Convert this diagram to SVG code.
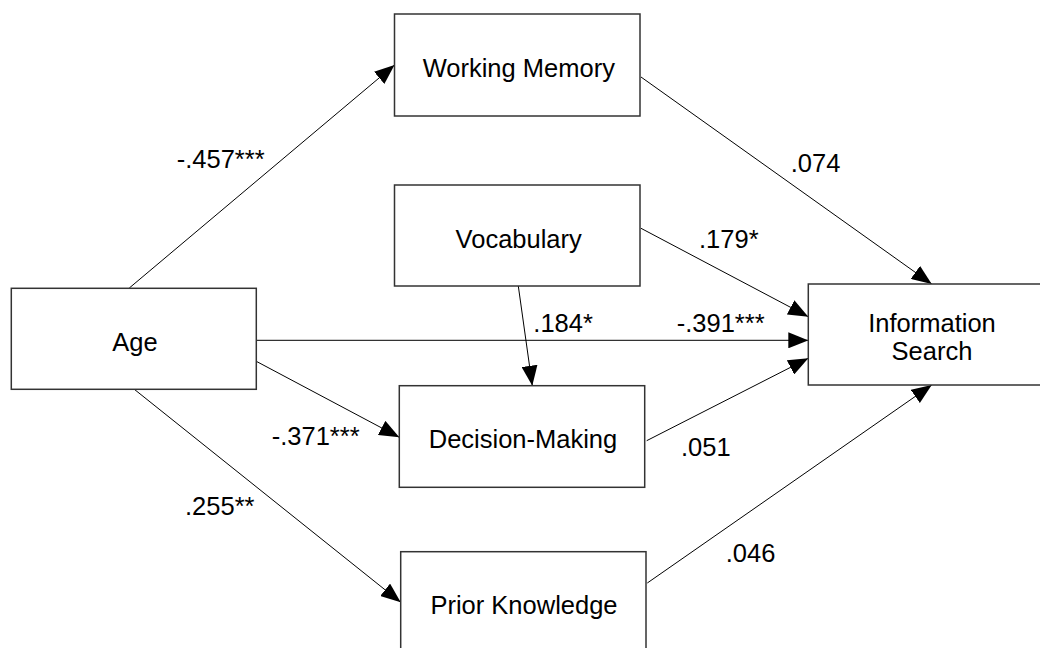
<svg xmlns="http://www.w3.org/2000/svg" width="1040" height="648" viewBox="0 0 1040 648">
<style>
.box{fill:#fff;stroke:#333;stroke-width:1.5}
.node{font-family:"Liberation Sans",Arial,sans-serif;font-size:25.5px;fill:#000;text-anchor:middle}
.lbl{font-family:"Liberation Sans",Arial,sans-serif;font-size:25.5px;fill:#000}
.edge{stroke:#000;stroke-width:1;fill:none;marker-end:url(#ah)}
</style>
<defs>
<marker id="ah" markerUnits="userSpaceOnUse" markerWidth="20" markerHeight="16" refX="20" refY="8" orient="auto">
<path d="M0,0 L20,8 L0,16 z" fill="#000"/>
</marker>
</defs>
<rect width="1040" height="648" fill="#fff"/>
<g id="connectors">
<line class="edge" x1="129.3" y1="288" x2="394.5" y2="65"/>
<line class="edge" x1="641" y1="77" x2="931.7" y2="284"/>
<line class="edge" x1="641" y1="228.3" x2="808.3" y2="316.7"/>
<line class="edge" x1="257" y1="340.3" x2="808.3" y2="340.3"/>
<line class="edge" x1="518.3" y1="286" x2="532.3" y2="385.7"/>
<line class="edge" x1="646.7" y1="440.7" x2="808.3" y2="358.3"/>
<line class="edge" x1="257" y1="361.7" x2="399.3" y2="437.3"/>
<line class="edge" x1="134.3" y1="389.3" x2="400.7" y2="602.3"/>
<line class="edge" x1="647.3" y1="583" x2="931.7" y2="385"/>
</g>
<g id="labels">
<text class="lbl" x="176.7" y="168">-.457***</text>
<text class="lbl" x="790.7" y="171.7">.074</text>
<text class="lbl" x="699" y="247.7">.179*</text>
<text class="lbl" x="533.3" y="332.3">.184*</text>
<text class="lbl" x="676.7" y="332.3">-.391***</text>
<text class="lbl" x="271.7" y="444.7">-.371***</text>
<text class="lbl" x="185" y="515">.255**</text>
<text class="lbl" x="681" y="455.7">.051</text>
<text class="lbl" x="725.7" y="562.3">.046</text>
</g>
<g id="working-memory">
<rect class="box" x="394.5" y="14" width="245.5" height="102"/>
<text class="node" x="518.8" y="77.3">Working Memory</text>
</g>
<g id="vocabulary">
<rect class="box" x="394.5" y="185" width="245.5" height="101"/>
<text class="node" x="518.7" y="248.3">Vocabulary</text>
</g>
<g id="age">
<rect class="box" x="11.3" y="288.3" width="245" height="101"/>
<text class="node" x="135" y="350.7">Age</text>
</g>
<g id="information-search">
<rect class="box" x="808.3" y="284" width="246" height="101"/>
<text class="node" x="932" y="331.7">Information</text>
<text class="node" x="932" y="360">Search</text>
</g>
<g id="decision-making">
<rect class="box" x="399.3" y="385.7" width="245.4" height="101.6"/>
<text class="node" x="523" y="448">Decision-Making</text>
</g>
<g id="prior-knowledge">
<rect class="box" x="400.7" y="551.7" width="245.3" height="102"/>
<text class="node" x="524" y="614">Prior Knowledge</text>
</g>
</svg>
